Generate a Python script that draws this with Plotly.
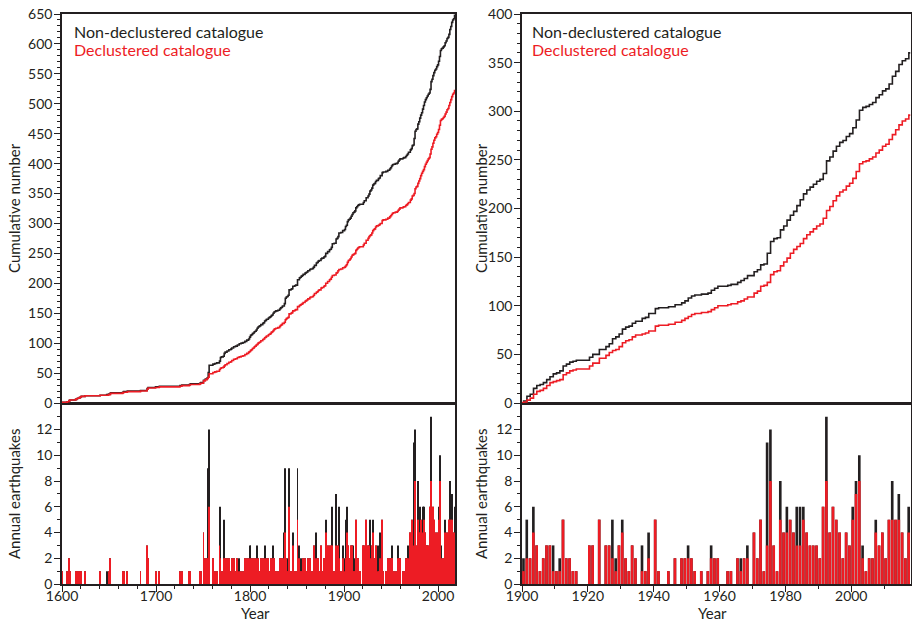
import numpy as np
import plotly.graph_objects as go

# ---------------------------------------------------------------------------
# Annual number of earthquakes (non-declustered / declustered), one value per
# year, grouped by century. Each row of ten is one decade.
# ---------------------------------------------------------------------------
total_1600s = [
    1, 0, 0, 0, 0, 1, 0, 2, 1, 0,
    0, 0, 0, 0, 1, 1, 1, 0, 1, 1,
    1, 0, 0, 0, 1, 0, 0, 0, 0, 0,
    0, 0, 0, 0, 0, 0, 0, 0, 0, 0,
    1, 0, 0, 0, 0, 0, 0, 1, 0, 1,
    0, 2, 0, 0, 0, 0, 0, 0, 0, 0,
    0, 0, 0, 0, 1, 1, 0, 0, 0, 1,
    0, 0, 0, 0, 0, 0, 0, 0, 0, 0,
    0, 0, 0, 1, 0, 0, 0, 0, 0, 0,
    3, 2, 0, 0, 0, 0, 0, 0, 0, 1,
]
declustered_1600s = [
    1, 0, 0, 0, 0, 1, 0, 2, 1, 0,
    0, 0, 0, 0, 1, 1, 1, 0, 1, 1,
    1, 0, 0, 0, 1, 0, 0, 0, 0, 0,
    0, 0, 0, 0, 0, 0, 0, 0, 0, 0,
    1, 0, 0, 0, 0, 0, 0, 0, 0, 1,
    0, 2, 0, 0, 0, 0, 0, 0, 0, 0,
    0, 0, 0, 0, 1, 1, 0, 0, 0, 1,
    0, 0, 0, 0, 0, 0, 0, 0, 0, 0,
    0, 0, 0, 1, 0, 0, 0, 0, 0, 0,
    3, 2, 0, 0, 0, 0, 0, 0, 0, 1,
]

total_1700s = [
    0, 0, 0, 1, 0, 0, 0, 0, 0, 0,
    0, 0, 0, 0, 0, 0, 0, 0, 0, 0,
    0, 0, 0, 0, 0, 1, 0, 1, 0, 0,
    0, 0, 0, 0, 0, 1, 1, 0, 0, 0,
    0, 0, 0, 0, 0, 0, 1, 1, 0, 0,
    4, 0, 2, 0, 2, 9, 12, 0, 0, 0,
    2, 0, 1, 0, 1, 0, 0, 3, 6, 1,
    0, 1, 5, 2, 0, 2, 0, 2, 0, 1,
    2, 0, 2, 0, 1, 0, 2, 0, 2, 0,
    1, 0, 1, 0, 2, 0, 2, 0, 2, 3,
]
declustered_1700s = [
    0, 0, 0, 1, 0, 0, 0, 0, 0, 0,
    0, 0, 0, 0, 0, 0, 0, 0, 0, 0,
    0, 0, 0, 0, 0, 1, 0, 1, 0, 0,
    0, 0, 0, 0, 0, 1, 1, 0, 0, 0,
    0, 0, 0, 0, 0, 0, 1, 1, 0, 0,
    4, 0, 2, 0, 2, 2, 6, 0, 0, 0,
    2, 0, 1, 0, 1, 0, 0, 3, 2, 1,
    0, 1, 2, 2, 0, 2, 0, 2, 0, 1,
    2, 0, 2, 0, 1, 0, 2, 0, 1, 0,
    1, 0, 1, 0, 2, 0, 2, 0, 2, 1,
]

total_1800s = [
    3, 1, 2, 1, 2, 1, 2, 3, 2, 1,
    1, 2, 0, 2, 1, 3, 1, 2, 0, 2,
    1, 1, 2, 1, 3, 2, 1, 1, 0, 1,
    0, 2, 2, 1, 2, 0, 4, 9, 2, 1,
    2, 9, 0, 1, 1, 4, 0, 1, 1, 0,
    9, 0, 3, 1, 2, 1, 2, 0, 2, 1,
    1, 2, 0, 2, 1, 0, 1, 2, 3, 0,
    4, 1, 2, 1, 0, 3, 1, 0, 2, 1,
    5, 0, 3, 0, 3, 1, 3, 6, 0, 1,
    0, 7, 1, 3, 6, 0, 1, 0, 3, 0,
]
declustered_1800s = [
    2, 1, 2, 1, 2, 1, 2, 1, 2, 1,
    1, 2, 0, 2, 1, 2, 1, 2, 0, 2,
    1, 1, 2, 1, 2, 2, 1, 1, 0, 1,
    0, 2, 2, 1, 2, 0, 2, 4, 2, 1,
    1, 6, 0, 1, 1, 3, 0, 1, 1, 0,
    5, 0, 2, 1, 1, 1, 2, 0, 2, 1,
    1, 2, 0, 2, 1, 0, 1, 2, 3, 0,
    2, 1, 2, 1, 0, 3, 1, 0, 2, 1,
    4, 0, 3, 0, 3, 1, 3, 3, 0, 1,
    0, 3, 1, 3, 2, 0, 1, 0, 2, 0,
]

# 1900-2017
total_1900s = [
    2, 5, 2, 6, 3, 1, 2, 3, 3, 3,
    1, 2, 5, 2, 2, 1, 1, 0, 0, 0,
    3, 3, 0, 5, 0, 3, 3, 5, 2, 3,
    5, 2, 1, 3, 2, 0, 3, 1, 4, 0,
    5, 1, 0, 0, 1, 0, 2, 0, 2, 2,
    3, 2, 1, 0, 1, 0, 1, 3, 2, 2,
    0, 0, 1, 1, 0, 2, 2, 2, 3, 0,
    4, 2, 5, 1, 11, 12, 3, 1, 8, 4,
    6, 5, 4, 6, 6, 6, 4, 3, 3, 3,
    2, 6, 13, 4, 6, 5, 4, 2, 4, 3,
    6, 8, 10, 3, 1, 2, 2, 5, 3, 4,
    2, 5, 8, 5, 7, 4, 2, 6,
]
declustered_1900s = [
    1, 2, 2, 4, 3, 1, 2, 3, 3, 1,
    1, 1, 5, 2, 2, 1, 1, 0, 0, 0,
    3, 3, 0, 5, 0, 3, 3, 2, 1, 3,
    4, 2, 1, 3, 2, 0, 1, 1, 2, 0,
    5, 1, 0, 0, 1, 0, 2, 0, 2, 2,
    2, 2, 1, 0, 1, 0, 1, 2, 2, 2,
    0, 0, 1, 1, 0, 2, 1, 2, 2, 0,
    4, 2, 5, 1, 3, 8, 3, 1, 5, 4,
    4, 5, 4, 3, 3, 5, 4, 3, 3, 3,
    2, 6, 8, 4, 6, 5, 4, 2, 4, 3,
    5, 7, 8, 2, 1, 2, 2, 4, 3, 4,
    2, 5, 5, 5, 5, 4, 2, 4,
]

legend_labels = ["Non-declustered catalogue", "Declustered catalogue"]

# ---------------------------------------------------------------------------
BLACK = "#231f20"
RED = "#ed1c24"
FONT = "Lato"

years_all = np.arange(1600, 2018)
total_all = np.array(total_1600s + total_1700s + total_1800s + total_1900s)
decl_all = np.array(declustered_1600s + declustered_1700s
                    + declustered_1800s + declustered_1900s)

years_recent = np.arange(1900, 2018)
total_recent = np.array(total_1900s)
decl_recent = np.array(declustered_1900s)


def cumulative(start, years, counts):
    """Step curve of the running total; each year's events counted mid-year."""
    x = np.r_[start, years + 0.5, years[-1] + 1]
    c = np.cumsum(counts)
    y = np.r_[0, c, c[-1]]
    return x, y


fig = go.Figure()

# ---- left panels: 1600-2018 ----
fig.add_trace(go.Bar(x=years_all, y=total_all, width=1, offset=0,
                     marker=dict(color=BLACK, line=dict(width=0)),
                     xaxis="x", yaxis="y"))
fig.add_trace(go.Bar(x=years_all, y=decl_all, width=1, offset=0,
                     marker=dict(color=RED, line=dict(width=0)),
                     xaxis="x", yaxis="y"))
for counts, col in ((total_all, BLACK), (decl_all, RED)):
    cx, cy = cumulative(1600, years_all, counts)
    fig.add_trace(go.Scatter(x=cx, y=cy, mode="lines",
                             line=dict(color=col, width=1.6, shape="hv"),
                             xaxis="x2", yaxis="y2"))

# ---- right panels: 1900-2018 ----
fig.add_trace(go.Bar(x=years_recent, y=total_recent, width=0.8, offset=0.05,
                     marker=dict(color=BLACK, line=dict(width=0)),
                     xaxis="x3", yaxis="y3"))
fig.add_trace(go.Bar(x=years_recent, y=decl_recent, width=0.8, offset=0.05,
                     marker=dict(color=RED, line=dict(width=0)),
                     xaxis="x3", yaxis="y3"))
for counts, col in ((total_recent, BLACK), (decl_recent, RED)):
    cx, cy = cumulative(1900, years_recent, counts)
    fig.add_trace(go.Scatter(x=cx, y=cy, mode="lines",
                             line=dict(color=col, width=1.6, shape="hv"),
                             xaxis="x4", yaxis="y4"))

W, H = 912, 628
LEFT_DOM = [62 / W, 455 / W]
RIGHT_DOM = [522 / W, 910.5 / W]
TOP_DOM = [1 - 403 / H, 1 - 14 / H]
BOT_DOM = [1 - 584 / H, 1 - 403.8 / H]

tickfont = dict(family=FONT, size=14, color=BLACK)
frame = dict(showline=True, linecolor=BLACK, linewidth=1.5, mirror=True,
             showgrid=False, zeroline=False, automargin=False)


def bottom_x(dom, rng, major, minor):
    return dict(domain=dom, range=rng, ticks="outside", ticklen=6,
                tickwidth=1, tickcolor=BLACK, tickfont=tickfont,
                tickvals=major, ticklabelstandoff=-8,
                minor=dict(ticks="outside", ticklen=3, tickwidth=1,
                           tickcolor=BLACK, tickmode="array", tickvals=minor),
                **frame)


def top_x(dom, rng):
    return dict(domain=dom, range=rng, ticks="", showticklabels=False, **frame)


def y_axis(dom, anchor, rng, major, minor):
    return dict(domain=dom, anchor=anchor, range=rng, ticks="outside",
                ticklen=6, tickwidth=1, tickcolor=BLACK, tickfont=tickfont,
                tickvals=major, ticklabelstandoff=-1,
                minor=dict(ticks="outside", ticklen=3, tickwidth=1,
                           tickcolor=BLACK, tickmode="array", tickvals=minor),
                **frame)


annual_major = list(range(0, 13, 2))
annual_minor = list(range(0, 14))

fig.update_layout(
    width=W, height=H,
    margin=dict(l=0, r=0, t=0, b=0, pad=0, autoexpand=False),
    paper_bgcolor="white", plot_bgcolor="white",
    showlegend=False, barmode="overlay",
    font=dict(family=FONT, color=BLACK),
    xaxis=dict(anchor="y", **bottom_x(LEFT_DOM, [1600, 2018],
                                      list(range(1600, 2001, 100)),
                                      list(range(1600, 2018, 20)))),
    yaxis=y_axis(BOT_DOM, "x", [0, 14], annual_major, annual_minor),
    xaxis2=dict(anchor="y2", **top_x(LEFT_DOM, [1600, 2018])),
    yaxis2=y_axis(TOP_DOM, "x2", [0, 650], list(range(0, 651, 50)),
                  list(range(0, 651, 10))),
    xaxis3=dict(anchor="y3", **bottom_x(RIGHT_DOM, [1900, 2018],
                                        list(range(1900, 2001, 20)),
                                        list(range(1900, 2018, 10)))),
    yaxis3=y_axis(BOT_DOM, "x3", [0, 14], annual_major, annual_minor),
    xaxis4=dict(anchor="y4", **top_x(RIGHT_DOM, [1900, 2018])),
    yaxis4=y_axis(TOP_DOM, "x4", [0, 400], list(range(0, 401, 50)),
                  list(range(0, 401, 10))),
)

annotations = []
for x0 in (72, 530):
    annotations.append(dict(x=x0 / W, y=1 - 31 / H, text=legend_labels[0],
                            font=dict(family=FONT, size=16, color=BLACK)))
    annotations.append(dict(x=x0 / W, y=1 - 50 / H, text=legend_labels[1],
                            font=dict(family=FONT, size=16, color=RED)))
for a in annotations:
    a.update(xref="paper", yref="paper", xanchor="left", yanchor="middle",
             showarrow=False)

for xt in (14, 481):
    annotations.append(dict(x=xt / W, y=1 - 208 / H, text="Cumulative number",
                            textangle=-90, xref="paper", yref="paper",
                            xanchor="center", yanchor="middle", showarrow=False,
                            font=dict(family=FONT, size=15, color=BLACK)))
    annotations.append(dict(x=xt / W, y=1 - 494 / H, text="Annual earthquakes",
                            textangle=-90, xref="paper", yref="paper",
                            xanchor="center", yanchor="middle", showarrow=False,
                            font=dict(family=FONT, size=15, color=BLACK)))
for xc in (255, 712):
    annotations.append(dict(x=xc / W, y=1 - 613 / H, text="Year",
                            xref="paper", yref="paper", xanchor="center",
                            yanchor="middle", showarrow=False,
                            font=dict(family=FONT, size=15, color=BLACK)))
fig.update_layout(annotations=annotations)

fig.write_html("out.html")
